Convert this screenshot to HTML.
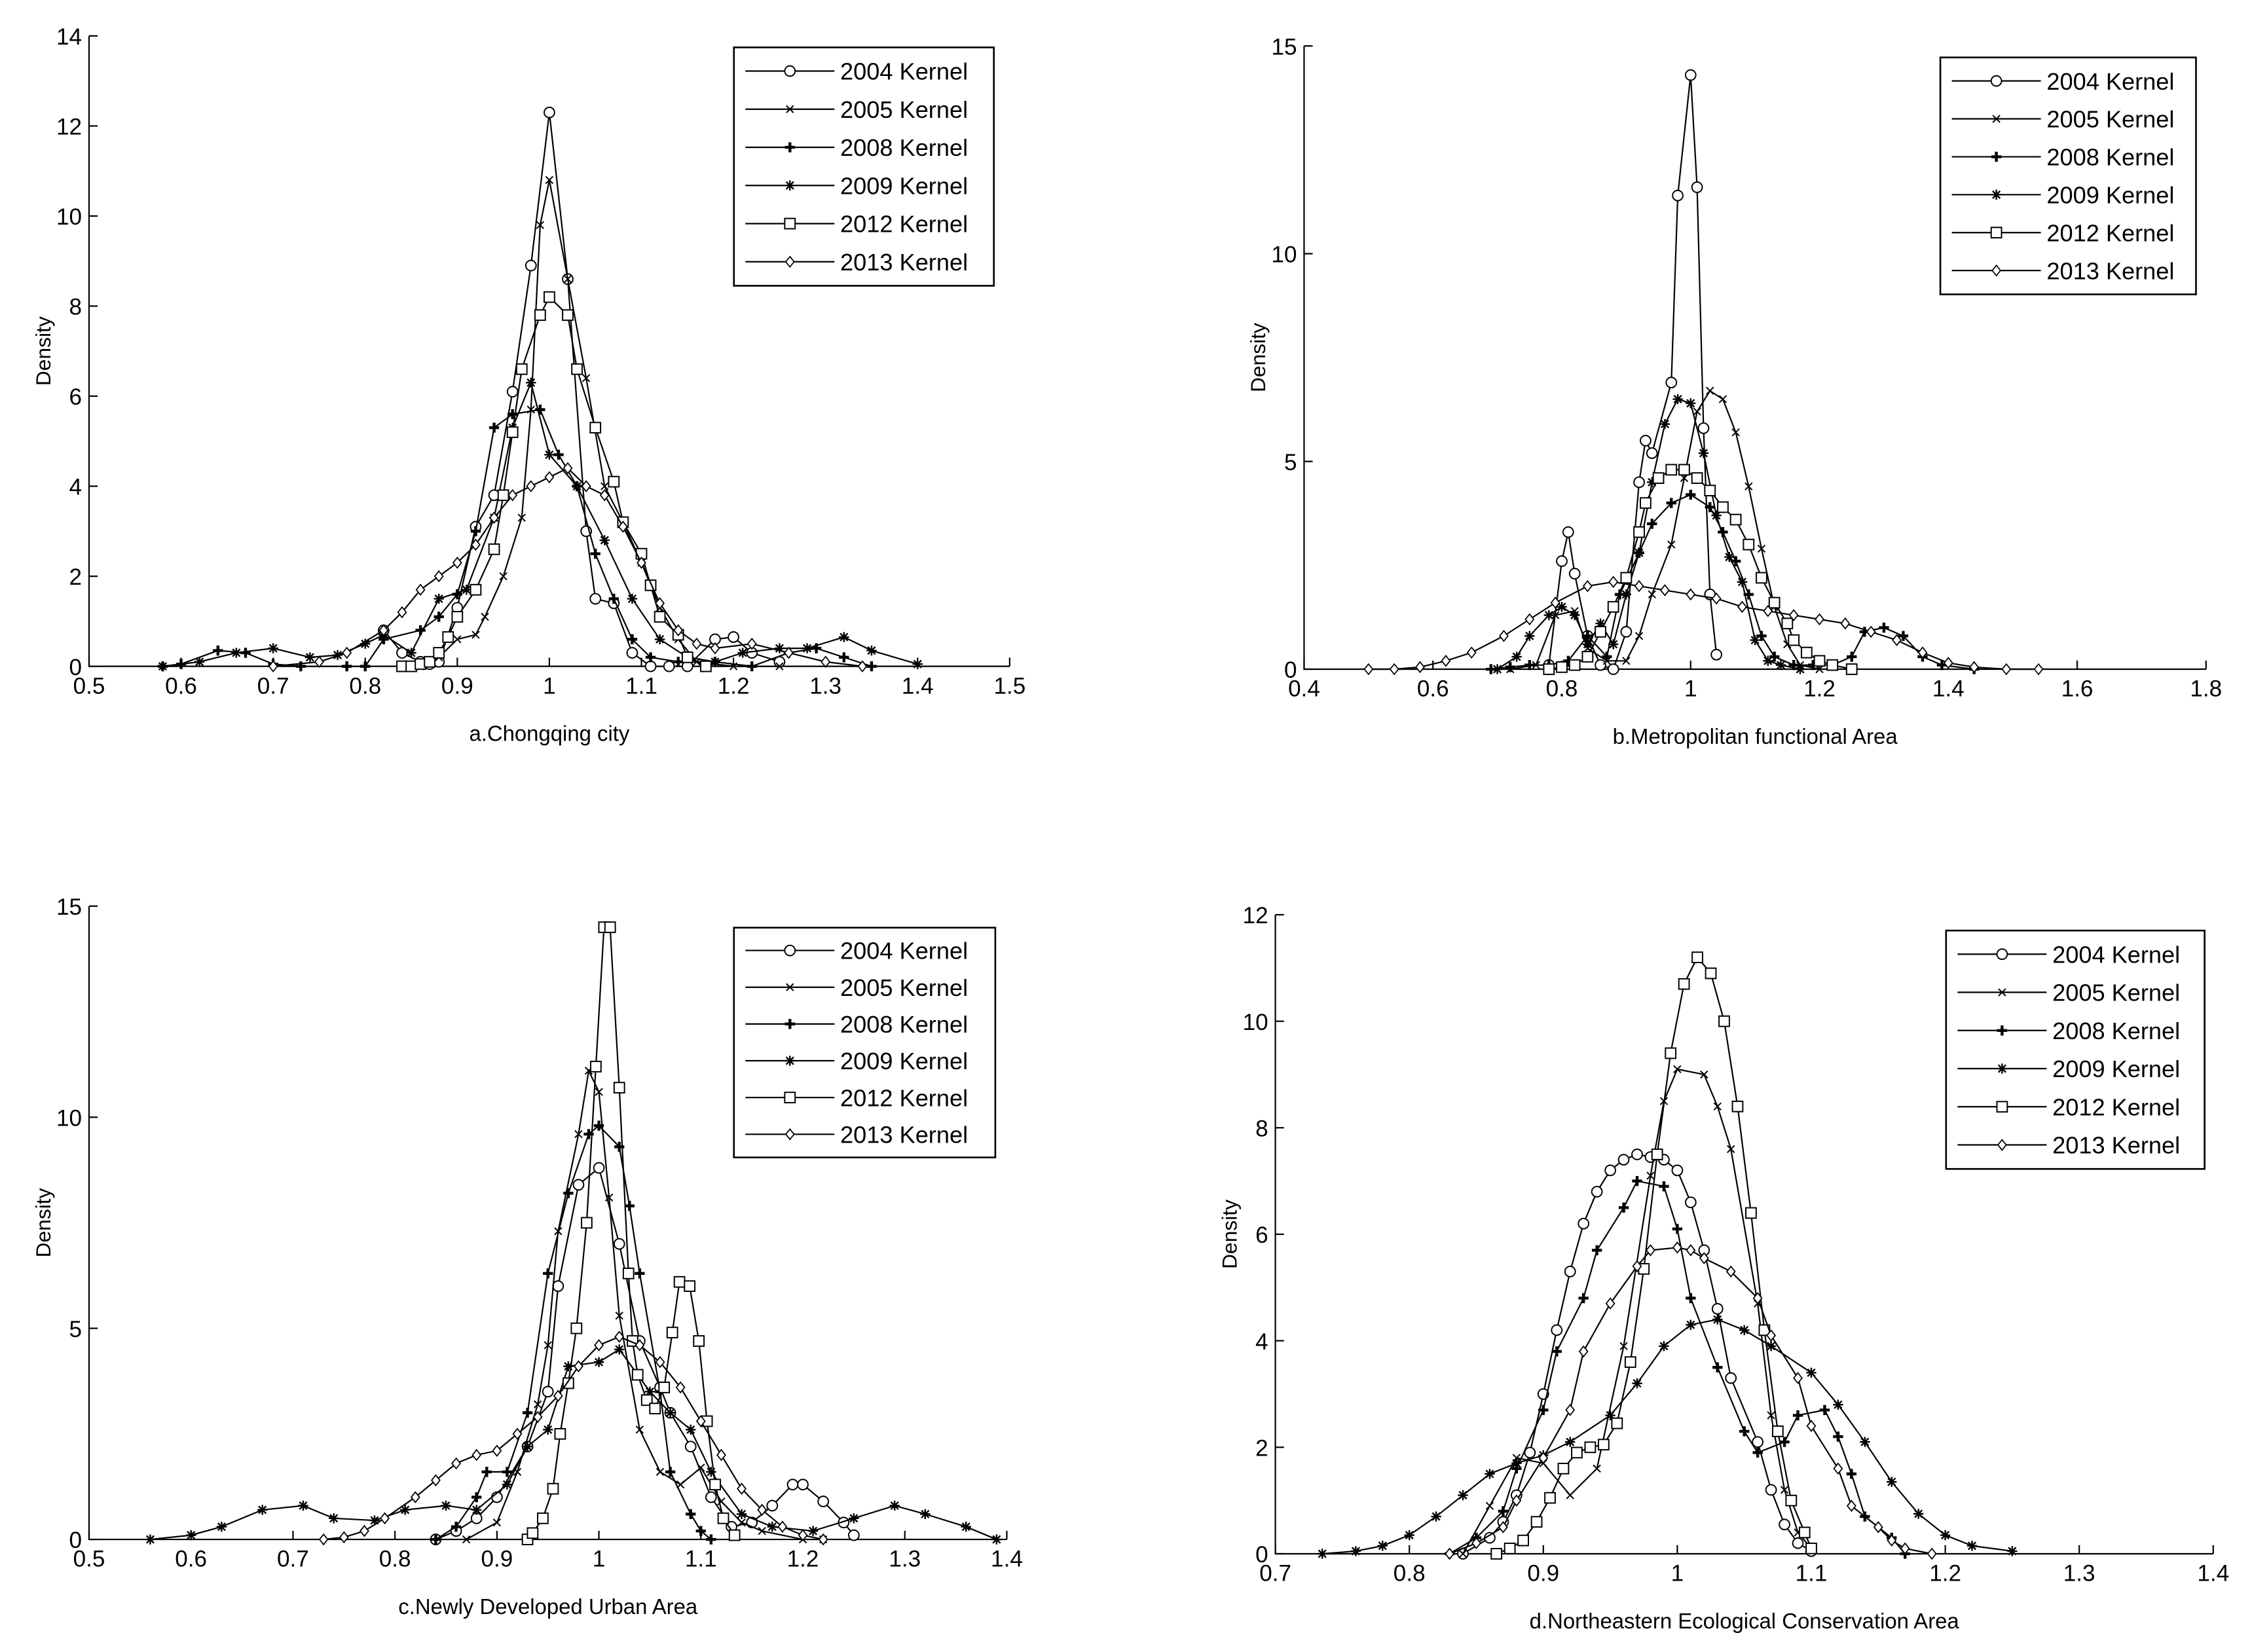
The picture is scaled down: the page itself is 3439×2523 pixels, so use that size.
<!DOCTYPE html>
<html><head><meta charset="utf-8"><style>
html,body{margin:0;padding:0;background:#fff}
svg{display:block}
text{font-family:"Liberation Sans",sans-serif;fill:#000}
</style></head><body>
<svg id="chart" xmlns="http://www.w3.org/2000/svg" width="3439" height="2523" viewBox="0 0 1568 1150.4" preserveAspectRatio="none"></svg>
<script>
const seriesNames=["2004 Kernel","2005 Kernel","2008 Kernel","2009 Kernel","2012 Kernel","2013 Kernel"];
const markerTypes=["circle","x","plus","star","square","diamond"];
// Panel a
const a2004x=[0.82,0.84,0.86,0.87,0.88,0.9,0.92,0.94,0.96,0.98,1.0,1.02,1.04,1.05,1.07,1.09,1.11,1.13,1.15,1.18,1.2,1.22,1.25];
const a2004y=[0.8,0.3,0.1,0.05,0.1,1.3,3.1,3.8,6.1,8.9,12.3,8.6,3.0,1.5,1.4,0.3,0,0,0,0.6,0.65,0.3,0.1];
const a2005x=[0.86,0.88,0.9,0.92,0.93,0.95,0.97,0.98,0.99,1.0,1.02,1.04,1.06,1.08,1.1,1.12,1.14,1.16,1.2,1.25];
const a2005y=[0,0.2,0.6,0.7,1.1,2.0,3.3,5.7,9.8,10.8,8.6,6.4,4.0,3.2,2.3,1.3,0.6,0.1,0,0];
const a2008x=[0.58,0.6,0.64,0.67,0.7,0.73,0.78,0.8,0.82,0.86,0.88,0.9,0.92,0.94,0.96,0.99,1.01,1.03,1.05,1.07,1.09,1.11,1.14,1.18,1.22,1.26,1.29,1.32,1.35];
const a2008y=[0,0.05,0.35,0.3,0.05,0,0,0,0.6,0.8,1.1,1.6,3.0,5.3,5.6,5.7,4.7,4.0,2.5,1.5,0.6,0.2,0.1,0.1,0,0.3,0.4,0.2,0];
const a2009x=[0.58,0.62,0.66,0.7,0.74,0.77,0.8,0.82,0.85,0.88,0.91,0.94,0.96,0.98,1.0,1.03,1.06,1.09,1.12,1.15,1.18,1.21,1.25,1.28,1.32,1.35,1.4];
const a2009y=[0,0.1,0.3,0.4,0.2,0.25,0.5,0.7,0.3,1.5,1.7,3.3,5.3,6.3,4.7,4.0,2.8,1.5,0.6,0.2,0.1,0.3,0.4,0.4,0.65,0.35,0.05];
const a2012x=[0.84,0.85,0.86,0.87,0.88,0.89,0.9,0.92,0.94,0.95,0.96,0.97,0.99,1.0,1.02,1.03,1.05,1.07,1.08,1.1,1.11,1.12,1.14,1.15,1.17];
const a2012y=[0,0,0.05,0.1,0.3,0.65,1.1,1.7,2.6,3.8,5.2,6.6,7.8,8.2,7.8,6.6,5.3,4.1,3.2,2.5,1.8,1.1,0.7,0.2,0];
const a2013x=[0.7,0.75,0.78,0.82,0.84,0.86,0.88,0.9,0.92,0.94,0.96,0.98,1.0,1.02,1.04,1.06,1.08,1.1,1.12,1.14,1.16,1.18,1.22,1.26,1.3,1.34];
const a2013y=[0,0.1,0.3,0.8,1.2,1.7,2.0,2.3,2.7,3.3,3.8,4.0,4.2,4.4,4.0,3.8,3.1,2.3,1.4,0.8,0.5,0.4,0.5,0.3,0.1,0];
// Panel b
const b2004x=[0.78,0.8,0.81,0.82,0.84,0.86,0.88,0.9,0.92,0.93,0.94,0.97,0.98,1.0,1.01,1.02,1.03,1.04];
const b2004y=[0.1,2.6,3.3,2.3,0.8,0.1,0,0.9,4.5,5.5,5.2,6.9,11.4,14.3,11.6,5.8,1.8,0.35];
const b2005x=[0.72,0.76,0.79,0.82,0.84,0.87,0.9,0.92,0.94,0.97,0.99,1.01,1.03,1.05,1.07,1.09,1.11,1.13,1.15,1.17,1.2];
const b2005y=[0,0.1,1.3,1.4,0.5,0.2,0.2,0.8,1.8,3.0,4.6,6.2,6.7,6.5,5.7,4.4,2.9,1.5,0.6,0.1,0];
const b2008x=[0.69,0.72,0.75,0.78,0.81,0.84,0.87,0.89,0.92,0.94,0.97,1.0,1.03,1.05,1.07,1.09,1.11,1.13,1.16,1.19,1.22,1.25,1.27,1.3,1.33,1.36,1.39,1.44];
const b2008y=[0,0.05,0.1,0.1,0.2,0.8,0.3,1.8,2.8,3.5,4.0,4.2,3.9,3.3,2.6,1.8,0.8,0.3,0.1,0.1,0.1,0.3,0.9,1.0,0.8,0.3,0.1,0];
const b2009x=[0.7,0.73,0.75,0.78,0.8,0.82,0.84,0.86,0.88,0.9,0.92,0.94,0.96,0.98,1.0,1.02,1.04,1.06,1.08,1.1,1.12,1.14,1.17];
const b2009y=[0,0.3,0.8,1.3,1.5,1.3,0.6,1.1,0.6,1.8,2.8,4.5,5.9,6.5,6.4,5.2,3.7,2.7,2.1,0.7,0.2,0.1,0];
const b2012x=[0.78,0.8,0.82,0.84,0.86,0.88,0.9,0.92,0.93,0.95,0.97,0.99,1.01,1.03,1.05,1.07,1.09,1.11,1.13,1.15,1.16,1.18,1.2,1.22,1.25];
const b2012y=[0,0.05,0.1,0.3,0.9,1.5,2.2,3.3,4.0,4.6,4.8,4.8,4.6,4.3,3.9,3.6,3.0,2.2,1.6,1.1,0.7,0.4,0.2,0.1,0];
const b2013x=[0.5,0.54,0.58,0.62,0.66,0.71,0.75,0.79,0.84,0.88,0.92,0.96,1.0,1.04,1.08,1.12,1.16,1.2,1.24,1.28,1.32,1.36,1.4,1.44,1.49,1.54];
const b2013y=[0,0,0.05,0.2,0.4,0.8,1.2,1.6,2.0,2.1,2.0,1.9,1.8,1.7,1.5,1.4,1.3,1.2,1.1,0.9,0.7,0.4,0.15,0.05,0,0];
// Panel c
const c2004x=[0.84,0.86,0.88,0.9,0.93,0.95,0.96,0.98,1.0,1.02,1.04,1.06,1.07,1.09,1.11,1.13,1.15,1.17,1.19,1.2,1.22,1.24,1.25];
const c2004y=[0,0.2,0.5,1.0,2.2,3.5,6.0,8.4,8.8,7.0,4.7,3.6,3.0,2.2,1.0,0.3,0.4,0.8,1.3,1.3,0.9,0.4,0.1];
const c2005x=[0.87,0.9,0.92,0.94,0.95,0.96,0.98,0.99,1.0,1.01,1.02,1.04,1.06,1.08,1.1,1.12,1.14,1.16,1.2,1.22];
const c2005y=[0,0.4,1.6,3.2,4.6,7.3,9.6,11.1,10.6,8.1,5.3,2.6,1.6,1.3,1.7,0.9,0.4,0.2,0,0];
const c2008x=[0.84,0.86,0.88,0.89,0.91,0.93,0.95,0.97,0.99,1.0,1.02,1.03,1.04,1.06,1.07,1.09,1.1,1.11];
const c2008y=[0,0.3,1.0,1.6,1.6,3.0,6.3,8.2,9.6,9.8,9.3,7.9,6.3,3.5,1.6,0.6,0.2,0];
const c2009x=[0.56,0.6,0.63,0.67,0.71,0.74,0.78,0.81,0.85,0.88,0.91,0.93,0.95,0.97,1.0,1.02,1.05,1.07,1.09,1.11,1.14,1.17,1.21,1.25,1.29,1.32,1.36,1.39];
const c2009y=[0,0.1,0.3,0.7,0.8,0.5,0.45,0.7,0.8,0.7,1.3,2.2,2.6,4.1,4.2,4.5,3.5,3.0,2.6,1.6,0.6,0.3,0.2,0.5,0.8,0.6,0.3,0];
const c2012x=[0.93,0.935,0.945,0.955,0.962,0.97,0.978,0.988,0.997,1.005,1.011,1.02,1.029,1.033,1.038,1.047,1.055,1.064,1.072,1.079,1.089,1.098,1.106,1.114,1.122,1.133];
const c2012y=[0,0.15,0.5,1.2,2.5,3.7,5.0,7.5,11.2,14.5,14.5,10.7,6.3,4.7,3.9,3.3,3.1,3.6,4.9,6.1,6.0,4.7,2.8,1.3,0.5,0.1];
const c2013x=[0.73,0.75,0.77,0.79,0.82,0.84,0.86,0.88,0.9,0.92,0.94,0.96,0.98,1.0,1.02,1.04,1.06,1.08,1.1,1.12,1.14,1.16,1.18,1.2,1.22];
const c2013y=[0,0.05,0.2,0.5,1.0,1.4,1.8,2.0,2.1,2.5,2.9,3.4,4.1,4.6,4.8,4.6,4.2,3.6,2.8,2.0,1.2,0.7,0.3,0.1,0];
// Panel d
const d2004x=[0.84,0.86,0.87,0.88,0.89,0.9,0.91,0.92,0.93,0.94,0.95,0.96,0.97,0.98,0.99,1.0,1.01,1.02,1.03,1.04,1.06,1.07,1.08,1.09,1.1];
const d2004y=[0,0.3,0.6,1.1,1.9,3.0,4.2,5.3,6.2,6.8,7.2,7.4,7.5,7.45,7.4,7.2,6.6,5.7,4.6,3.3,2.1,1.2,0.55,0.2,0.05];
const d2005x=[0.84,0.86,0.88,0.9,0.92,0.94,0.96,0.98,0.99,1.0,1.02,1.03,1.04,1.06,1.07,1.08,1.09,1.1];
const d2005y=[0,0.9,1.8,1.7,1.1,1.6,3.9,7.1,8.5,9.1,9.0,8.4,7.6,4.7,2.6,1.2,0.4,0.1];
const d2008x=[0.83,0.85,0.87,0.88,0.9,0.91,0.93,0.94,0.96,0.97,0.99,1.0,1.01,1.03,1.05,1.06,1.08,1.09,1.11,1.12,1.13,1.14,1.16,1.17];
const d2008y=[0,0.3,0.8,1.6,2.7,3.8,4.8,5.7,6.5,7.0,6.9,6.1,4.8,3.5,2.3,1.9,2.1,2.6,2.7,2.2,1.5,0.7,0.3,0];
const d2009x=[0.735,0.76,0.78,0.8,0.82,0.84,0.86,0.88,0.9,0.92,0.95,0.97,0.99,1.01,1.03,1.05,1.07,1.1,1.12,1.14,1.16,1.18,1.2,1.22,1.25];
const d2009y=[0,0.05,0.15,0.35,0.7,1.1,1.5,1.7,1.85,2.1,2.6,3.2,3.9,4.3,4.4,4.2,3.9,3.4,2.8,2.1,1.35,0.75,0.35,0.15,0.05];
const d2012x=[0.865,0.875,0.885,0.895,0.905,0.915,0.925,0.935,0.945,0.955,0.965,0.975,0.985,0.995,1.005,1.015,1.025,1.035,1.045,1.055,1.065,1.075,1.085,1.095,1.1];
const d2012y=[0,0.1,0.25,0.6,1.05,1.6,1.9,2.0,2.05,2.45,3.6,5.35,7.5,9.4,10.7,11.2,10.9,10.0,8.4,6.4,4.2,2.3,1.0,0.4,0.1];
const d2013x=[0.83,0.85,0.87,0.88,0.9,0.92,0.93,0.95,0.97,0.98,1.0,1.01,1.02,1.04,1.06,1.07,1.09,1.1,1.12,1.13,1.15,1.16,1.17,1.19];
const d2013y=[0,0.2,0.5,1.0,1.8,2.7,3.8,4.7,5.4,5.7,5.75,5.7,5.55,5.3,4.8,4.1,3.3,2.4,1.6,0.9,0.5,0.25,0.1,0];
// tick values
const aXTicks=[0.5,0.6,0.7,0.8,0.9,1,1.1,1.2,1.3,1.4,1.5];
const aYTicks=[0,2,4,6,8,10,12,14];
const bXTicks=[0.4,0.6,0.8,1,1.2,1.4,1.6,1.8];
const bYTicks=[0,5,10,15];
const cXTicks=[0.5,0.6,0.7,0.8,0.9,1,1.1,1.2,1.3,1.4];
const cYTicks=[0,5,10,15];
const dXTicks=[0.7,0.8,0.9,1,1.1,1.2,1.3,1.4];
const dYTicks=[0,2,4,6,8,10,12];

const NS="http://www.w3.org/2000/svg";
const svg=document.getElementById('chart');
function mk(tag,attrs,parent){const e=document.createElementNS(NS,tag);for(const k in attrs)e.setAttribute(k,attrs[k]);(parent||svg).appendChild(e);return e;}
function fmt(v){return String(Math.round(v*10)/10);}

function marker(type,x,y,g){
  const r=3.6;let e;
  if(type==="circle"){e=mk('circle',{cx:x,cy:y,r:r,fill:'#fff',stroke:'#000','stroke-width':0.9},g);}
  else if(type==="square"){e=mk('rect',{x:x-r,y:y-r,width:2*r,height:2*r,fill:'#fff',stroke:'#000','stroke-width':0.9},g);}
  else if(type==="diamond"){e=mk('path',{d:`M${x} ${y-r}L${x+r*0.8} ${y}L${x} ${y+r}L${x-r*0.8} ${y}Z`,fill:'#fff',stroke:'#000','stroke-width':0.8},g);}
  else if(type==="x"){e=mk('path',{d:`M${x-2.5} ${y-2.5}L${x+2.5} ${y+2.5}M${x-2.5} ${y+2.5}L${x+2.5} ${y-2.5}`,stroke:'#000','stroke-width':0.9,fill:'none'},g);}
  else if(type==="plus"){e=mk('path',{d:`M${x-3.5} ${y}L${x+3.5} ${y}M${x} ${y-3.5}L${x} ${y+3.5}`,stroke:'#000','stroke-width':2,fill:'none'},g);}
  else {e=mk('path',{d:`M${x-3.5} ${y}L${x+3.5} ${y}M${x} ${y-3.5}L${x} ${y+3.5}M${x-2.6} ${y-2.6}L${x+2.6} ${y+2.6}M${x-2.6} ${y+2.6}L${x+2.6} ${y-2.6}`,stroke:'#000','stroke-width':1.1,fill:'none'},g);}
  
  
}

function panel(p){
  const g=mk('g',{});
  
  
  const X=v=>p.x0+(v-p.xmin)/(p.xmax-p.xmin)*(p.x1-p.x0);
  const Y=v=>p.y0-(v-0)/(p.ymax)*(p.y0-p.y1);
  const ax=mk('path',{d:`M${p.x0} ${p.y1}L${p.x0} ${p.y0}L${p.x1} ${p.y0}`,stroke:'#000','stroke-width':1,fill:'none'},g);
  
  
  p.xt.forEach(v=>{
    mk('line',{x1:X(v),x2:X(v),y1:p.y0,y2:p.y0-6,stroke:'#000','stroke-width':1},g);
    const t=mk('text',{x:X(v),y:p.y0+19,'font-size':16,'text-anchor':'middle'},g);
    t.textContent=fmt(v);
    
    
  });
  p.yt.forEach(v=>{
    mk('line',{x1:p.x0,x2:p.x0+6,y1:Y(v),y2:Y(v),stroke:'#000','stroke-width':1},g);
    const t=mk('text',{x:p.x0-5,y:Y(v)+6,'font-size':16,'text-anchor':'end'},g);
    t.textContent=fmt(v);
    
    
  });
  const yl=mk('text',{x:0,y:0,'font-size':14.5,'text-anchor':'middle',transform:`translate(${p.x0-27},${(p.y0+p.y1)/2}) rotate(-90)`},g);
  yl.textContent='Density';
  
  
  const xl=mk('text',{x:(p.x0+p.x1)/2,y:p.y0+52,'font-size':15,'text-anchor':'middle'},g);
  xl.textContent=p.title;
  
  
  p.series.forEach((s,i)=>{
    const sg=mk('g',{},g);
    
    
    const d=s[0].map((xv,k)=>(k?'L':'M')+X(xv).toFixed(2)+' '+Y(s[1][k]).toFixed(2)).join('');
    mk('path',{d:d,stroke:'#000','stroke-width':1,fill:'none'},sg);
    s[0].forEach((xv,k)=>marker(markerTypes[i],X(xv),Y(s[1][k]),sg));
  });
  const lg=mk('g',{},g);
  
  
  mk('rect',{x:p.lx,y:p.ly,width:p.lw,height:p.lh,fill:'#fff',stroke:'#000','stroke-width':1.2},lg);
  const step=p.lh/6.25;
  seriesNames.forEach((n,i)=>{
    const eg=mk('g',{},lg);
    
    
    const yy=p.ly+step*(i+0.62);
    mk('line',{x1:p.lx+8,x2:p.lx+70,y1:yy,y2:yy,stroke:'#000','stroke-width':1},eg);
    marker(markerTypes[i],p.lx+39,yy,eg);
    const t=mk('text',{x:p.lx+74,y:yy+6,'font-size':16.5},eg);
    t.textContent=n;
  });
}

panel({id:'a',title:'a.Chongqing city',x0:62,x1:703,y0:464,y1:25,xmin:0.5,xmax:1.5,ymax:14,xt:aXTicks,yt:aYTicks,
  lx:511,ly:33,lw:181,lh:166,
  series:[[a2004x,a2004y],[a2005x,a2005y],[a2008x,a2008y],[a2009x,a2009y],[a2012x,a2012y],[a2013x,a2013y]]});
panel({id:'b',title:'b.Metropolitan functional Area',x0:908,x1:1536,y0:466,y1:32,xmin:0.4,xmax:1.8,ymax:15,xt:bXTicks,yt:bYTicks,
  lx:1351,ly:40,lw:178,lh:165,
  series:[[b2004x,b2004y],[b2005x,b2005y],[b2008x,b2008y],[b2009x,b2009y],[b2012x,b2012y],[b2013x,b2013y]]});
panel({id:'c',title:'c.Newly Developed Urban Area',x0:62,x1:701,y0:1072,y1:631,xmin:0.5,xmax:1.4,ymax:15,xt:cXTicks,yt:cYTicks,
  lx:511,ly:646,lw:182,lh:160,
  series:[[c2004x,c2004y],[c2005x,c2005y],[c2008x,c2008y],[c2009x,c2009y],[c2012x,c2012y],[c2013x,c2013y]]});
panel({id:'d',title:'d.Northeastern Ecological Conservation Area',x0:888,x1:1541,y0:1082,y1:637,xmin:0.7,xmax:1.4,ymax:12,xt:dXTicks,yt:dYTicks,
  lx:1355,ly:648,lw:180,lh:166,
  series:[[d2004x,d2004y],[d2005x,d2005y],[d2008x,d2008y],[d2009x,d2009y],[d2012x,d2012y],[d2013x,d2013y]]});
</script>
</body></html>
